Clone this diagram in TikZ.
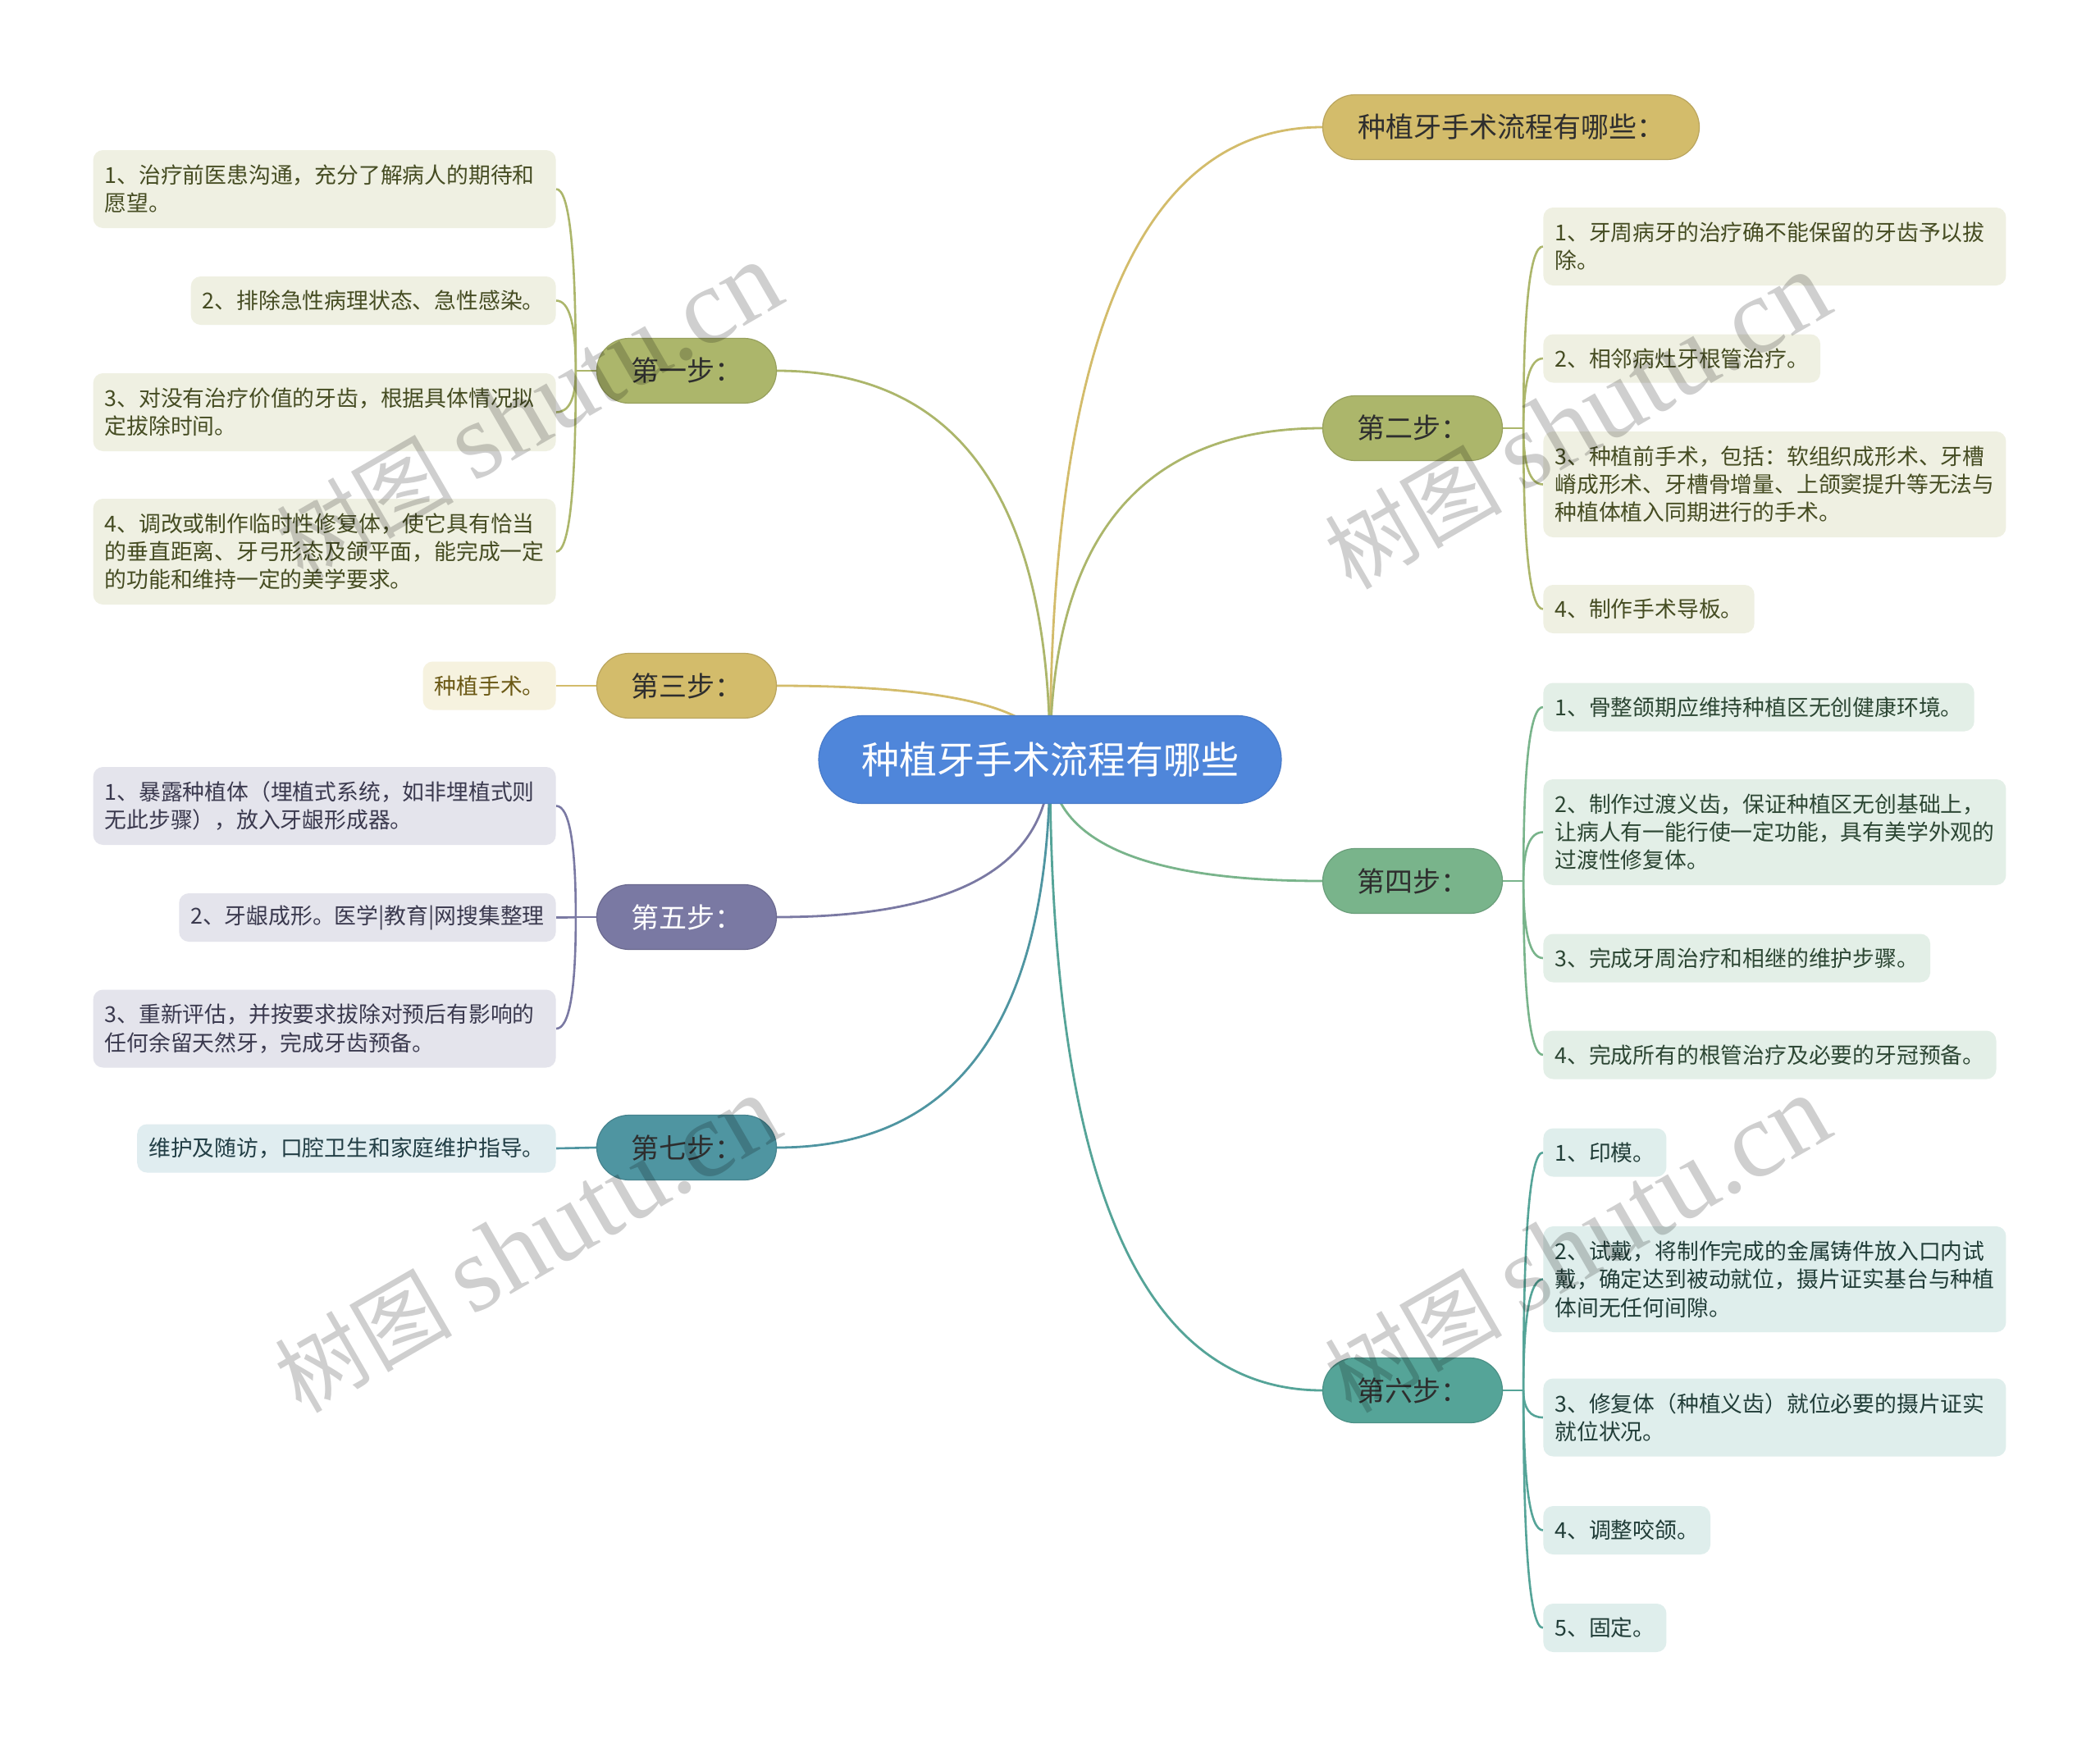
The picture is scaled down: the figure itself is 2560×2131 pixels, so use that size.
\documentclass[tikz,border=0pt]{standalone}
\usepackage{fontspec}
\setmainfont{Noto Sans CJK SC}
\newfontfamily\wmserif{Liberation Serif}
\usetikzlibrary{calc,backgrounds}
\definecolor{cblue}{HTML}{4F86DA}
\definecolor{ctan}{HTML}{D3BC6B}
\definecolor{colive}{HTML}{ACB66B}
\definecolor{cgreen}{HTML}{79B48B}
\definecolor{cteal}{HTML}{55A498}
\definecolor{cpurple}{HTML}{7A79A3}
\definecolor{cbt}{HTML}{4F95A1}
\definecolor{folive}{HTML}{EFF0E2}
\definecolor{ftan}{HTML}{F6F2DF}
\definecolor{fgreen}{HTML}{E3EFE7}
\definecolor{fteal}{HTML}{DFEEEC}
\definecolor{fpurple}{HTML}{E4E4EC}
\definecolor{fbt}{HTML}{E0EDF0}
\definecolor{tolive}{HTML}{454C22}
\definecolor{ttan}{HTML}{6A5814}
\definecolor{tgreen}{HTML}{2C4633}
\definecolor{tteal}{HTML}{213D38}
\definecolor{tpurple}{HTML}{3A394E}
\definecolor{tbt}{HTML}{223E45}
\definecolor{tdark}{HTML}{2E2E2E}
\newcommand{\mapcurve}[4]{% color, width, start, end
  \coordinate (qq) at (#3 |- #4);
  \draw[#1, line width=#2] (#3) .. controls ($(#3)!0.6667!(qq)$) and ($(#4)!0.6667!(qq)$) .. (#4);
}
\begin{document}
\begin{tikzpicture}[x=0.5pt,y=-0.5pt,
  hub/.style={fill=cblue, draw=cblue!92!black, line width=0.6pt, rounded corners=26.7pt,
    minimum width=282pt, minimum height=53.5pt, inner sep=0pt, text=white,
    font=\fontsize{23}{27}\selectfont},
  branch/.style={draw=#1!88!black, fill=#1, line width=0.6pt, rounded corners=19.7pt,
    minimum width=109.5pt, minimum height=39.5pt, inner sep=0pt, text=tdark,
    font=\fontsize{17}{20}\selectfont},
  leaf/.style={rounded corners=6pt, inner xsep=7pt, inner ysep=4pt, align=left,
    font=\fontsize{13.4}{17.1}\selectfont},
  one/.style={minimum height=29.5pt},
  two/.style={minimum height=47.5pt, text width=268pt},
  three/.style={minimum height=64.5pt, text width=268pt},
  lo/.style={leaf, fill=folive, text=tolive},
  lt/.style={leaf, fill=ftan, text=ttan},
  lg/.style={leaf, fill=fgreen, text=tgreen},
  ltl/.style={leaf, fill=fteal, text=tteal},
  lp/.style={leaf, fill=fpurple, text=tpurple},
  lb/.style={leaf, fill=fbt, text=tbt},
  wm/.style={rotate=30, text=black, text opacity=0.19, inner sep=0pt}
]
\useasboundingbox (0,0) rectangle (2560,2131);

% central and main branches
\node[hub] (c) at (1280,926) {种植牙手术流程有哪些};
\node[branch=ctan, minimum width=229.5pt] (b0) at (1842,155) {种植牙手术流程有哪些：};
\node[branch=colive] (b1) at (837,452) {第一步：};
\node[branch=colive] (b2) at (1722,522) {第二步：};
\node[branch=ctan] (b3) at (837,836) {第三步：};
\node[branch=cgreen] (b4) at (1722,1074) {第四步：};
\node[branch=cpurple, text=white] (b5) at (837,1118) {第五步：};
\node[branch=cteal] (b6) at (1722,1695) {第六步：};
\node[branch=cbt] (b7) at (837,1399) {第七步：};

% left leaves
\node[lo, two, anchor=east] (l1a) at (678,230.5) {1、治疗前医患沟通，充分了解病人的期待和\\愿望。};
\node[lo, one, anchor=east] (l1b) at (678,366.5) {2、排除急性病理状态、急性感染。};
\node[lo, two, anchor=east] (l1c) at (678,502.5) {3、对没有治疗价值的牙齿，根据具体情况拟\\定拔除时间。};
\node[lo, three, anchor=east] (l1d) at (678,672.5) {4、调改或制作临时性修复体，使它具有恰当\\的垂直距离、牙弓形态及颌平面，能完成一定\\的功能和维持一定的美学要求。};
\node[lt, one, anchor=east] (l3) at (678,836) {种植手术。};
\node[lp, two, anchor=east] (l5a) at (678,982.5) {1、暴露种植体（埋植式系统，如非埋植式则\\无此步骤），放入牙龈形成器。};
\node[lp, one, anchor=east] (l5b) at (678,1118.5) {2、牙龈成形。医学|教育|网搜集整理};
\node[lp, two, anchor=east] (l5c) at (678,1254) {3、重新评估，并按要求拔除对预后有影响的\\任何余留天然牙，完成牙齿预备。};
\node[lb, one, anchor=east] (l7) at (678,1400) {维护及随访，口腔卫生和家庭维护指导。};

% right leaves
\node[lo, two, anchor=west] (r2a) at (1881,300.5) {1、牙周病牙的治疗确不能保留的牙齿予以拔\\除。};
\node[lo, one, anchor=west] (r2b) at (1881,437) {2、相邻病灶牙根管治疗。};
\node[lo, three, anchor=west] (r2c) at (1881,590.5) {3、种植前手术，包括：软组织成形术、牙槽\\嵴成形术、牙槽骨增量、上颌窦提升等无法与\\种植体植入同期进行的手术。};
\node[lo, one, anchor=west] (r2d) at (1881,742.5) {4、制作手术导板。};
\node[lg, one, anchor=west] (r4a) at (1881,862) {1、骨整颌期应维持种植区无创健康环境。};
\node[lg, three, anchor=west] (r4b) at (1881,1014.5) {2、制作过渡义齿，保证种植区无创基础上，\\让病人有一能行使一定功能，具有美学外观的\\过渡性修复体。};
\node[lg, one, anchor=west] (r4c) at (1881,1168) {3、完成牙周治疗和相继的维护步骤。};
\node[lg, one, anchor=west] (r4d) at (1881,1286) {4、完成所有的根管治疗及必要的牙冠预备。};
\node[ltl, one, anchor=west] (r6a) at (1881,1405) {1、印模。};
\node[ltl, three, anchor=west] (r6b) at (1881,1559.5) {2、试戴，将制作完成的金属铸件放入口内试\\戴，确定达到被动就位，摄片证实基台与种植\\体间无任何间隙。};
\node[ltl, two, anchor=west] (r6c) at (1881,1728) {3、修复体（种植义齿）就位必要的摄片证实\\就位状况。};
\node[ltl, one, anchor=west] (r6d) at (1881,1865.5) {4、调整咬颌。};
\node[ltl, one, anchor=west] (r6e) at (1881,1984.5) {5、固定。};

% junctions
\coordinate (j1) at ($(b1.west)+(-25,0)$);
\coordinate (j2) at ($(b2.east)+(25,0)$);
\coordinate (j4) at ($(b4.east)+(25,0)$);
\coordinate (j5) at ($(b5.west)+(-25,0)$);
\coordinate (j6) at ($(b6.east)+(25,0)$);

\begin{scope}[on background layer]
  \fill[white] (0,0) rectangle (2560,2131);
  \mapcurve{ctan}{1.4pt}{c.center}{b0.west}
  \mapcurve{colive}{1.4pt}{c.center}{b1.east}
  \mapcurve{colive}{1.4pt}{c.center}{b2.west}
  \mapcurve{ctan}{1.4pt}{c.center}{b3.east}
  \mapcurve{cgreen}{1.4pt}{c.center}{b4.west}
  \mapcurve{cpurple}{1.4pt}{c.center}{b5.east}
  \mapcurve{cteal}{1.4pt}{c.center}{b6.west}
  \mapcurve{cbt}{1.4pt}{c.center}{b7.east}
  % leaf connectors
  \draw[colive, line width=1.3pt] (b1.west) -- (j1);
  \foreach \n in {l1a,l1b,l1c,l1d} {\mapcurve{colive}{1.3pt}{j1}{\n.east}}
  \draw[colive, line width=1.3pt] (b2.east) -- (j2);
  \foreach \n in {r2a,r2b,r2c,r2d} {\mapcurve{colive}{1.3pt}{j2}{\n.west}}
  \draw[ctan, line width=1.3pt] (b3.west) -- (l3.east);
  \draw[cgreen, line width=1.3pt] (b4.east) -- (j4);
  \foreach \n in {r4a,r4b,r4c,r4d} {\mapcurve{cgreen}{1.3pt}{j4}{\n.west}}
  \draw[cpurple, line width=1.3pt] (b5.west) -- (j5);
  \foreach \n in {l5a,l5b,l5c} {\mapcurve{cpurple}{1.3pt}{j5}{\n.east}}
  \draw[cteal, line width=1.3pt] (b6.east) -- (j6);
  \foreach \n in {r6a,r6b,r6c,r6d,r6e} {\mapcurve{cteal}{1.3pt}{j6}{\n.west}}
  \draw[cbt, line width=1.3pt] (b7.west) -- (l7.east);
\end{scope}

% watermarks
\node[wm] (w1) at (645,502) {\fontsize{54}{60}\selectfont 树图 \fontsize{66}{70}\selectfont\wmserif shutu.cn};
\node[wm] (w2) at (1923,514) {\fontsize{54}{60}\selectfont 树图 \fontsize{66}{70}\selectfont\wmserif shutu.cn};
\node[wm] (w3) at (643,1518) {\fontsize{54}{60}\selectfont 树图 \fontsize{66}{70}\selectfont\wmserif shutu.cn};
\node[wm] (w4) at (1923,1518) {\fontsize{54}{60}\selectfont 树图 \fontsize{66}{70}\selectfont\wmserif shutu.cn};
\end{tikzpicture}
\end{document}
